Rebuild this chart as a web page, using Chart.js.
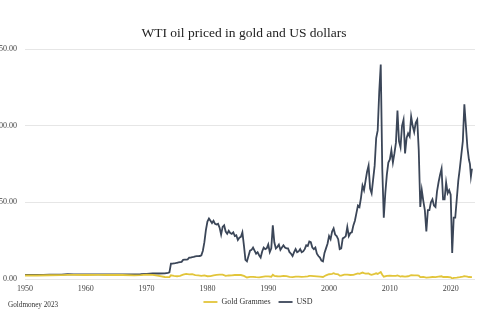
<!DOCTYPE html>
<html>
<head>
<meta charset="utf-8">
<script src="https://cdn.jsdelivr.net/npm/chart.js@4/dist/chart.umd.min.js"></script>
<style>
  html, body { margin: 0; padding: 0; background: #fff; }
  #wrap { position: relative; width: 485px; height: 321px; overflow: hidden; }
  #box { position: absolute; left: -8px; top: 0; width: 503px; height: 321px; }
  #credit { position: absolute; left: 8px; top: 301px; font: 7.2px "Liberation Serif", serif; color: #333; }
</style>
</head>
<body>
<div id="wrap">
  <div id="box"><canvas id="chart"></canvas></div>
  <div id="credit">Goldmoney 2023</div>
</div>
<script>
// WTI oil price in USD per barrel
const usdDates = [
  1950, 1951, 1952, 1953, 1954, 1955, 1956, 1957, 1958, 1959, 1960, 1962, 1964, 1966, 1968, 1969, 1970, 1971, 1972, 1973, 1973.5, 1973.75,
  1974, 1974.25, 1974.5, 1974.75,
  1975, 1975.25, 1975.5, 1975.75,
  1976, 1976.25, 1976.5, 1976.75,
  1977, 1977.25, 1977.5, 1977.75,
  1978, 1978.25, 1978.5, 1978.75,
  1979, 1979.25, 1979.5, 1979.75,
  1980, 1980.25, 1980.5, 1980.75,
  1981, 1981.25, 1981.5, 1981.75,
  1982, 1982.25, 1982.5, 1982.75,
  1983, 1983.25, 1983.5, 1983.75,
  1984, 1984.25, 1984.5, 1984.75,
  1985, 1985.25, 1985.5, 1985.75,
  1986, 1986.25, 1986.5, 1986.75,
  1987, 1987.25, 1987.5, 1987.75,
  1988, 1988.25, 1988.5, 1988.75,
  1989, 1989.25, 1989.5, 1989.75,
  1990, 1990.25, 1990.5, 1990.75,
  1991, 1991.25, 1991.5, 1991.75,
  1992, 1992.25, 1992.5, 1992.75,
  1993, 1993.25, 1993.5, 1993.75,
  1994, 1994.25, 1994.5, 1994.75,
  1995, 1995.25, 1995.5, 1995.75,
  1996, 1996.25, 1996.5, 1996.75,
  1997, 1997.25, 1997.5, 1997.75,
  1998, 1998.25, 1998.5, 1998.75,
  1999, 1999.25, 1999.5, 1999.75,
  2000, 2000.25, 2000.5, 2000.75,
  2001, 2001.25, 2001.5, 2001.75,
  2002, 2002.25, 2002.5, 2002.75,
  2003, 2003.25, 2003.5, 2003.75,
  2004, 2004.25, 2004.5, 2004.75,
  2005, 2005.25, 2005.5, 2005.75,
  2006, 2006.25, 2006.5, 2006.75,
  2007, 2007.25, 2007.5, 2007.75,
  2008, 2008.25, 2008.5, 2008.75,
  2009, 2009.25, 2009.5, 2009.75,
  2010, 2010.25, 2010.5, 2010.75,
  2011, 2011.25, 2011.5, 2011.75,
  2012, 2012.25, 2012.5, 2012.75,
  2013, 2013.25, 2013.5, 2013.75,
  2014, 2014.25, 2014.5, 2014.75,
  2015, 2015.25, 2015.5, 2015.75,
  2016, 2016.25, 2016.5, 2016.75,
  2017, 2017.25, 2017.5, 2017.75,
  2018, 2018.25, 2018.5, 2018.75,
  2019, 2019.25, 2019.5, 2019.75,
  2020, 2020.25, 2020.5, 2020.75,
  2021, 2021.25, 2021.5, 2021.75,
  2022, 2022.25, 2022.5, 2022.75,
  2023, 2023.17, 2023.33, 2023.5
];
const usdValues = [
  2.6, 2.6, 2.6, 2.7, 2.8, 2.8, 2.8, 3.1, 3.0, 3.0, 3.0, 3.0, 2.95, 2.95, 3.0, 3.1, 3.35, 3.6, 3.6, 3.7, 4.0, 4.3,
  10.1, 10.1, 10.2, 10.3,
  10.6, 10.8, 11.0, 11.2,
  12.5, 12.6, 12.7, 12.8,
  13.9, 14.0, 14.3, 14.4,
  14.8, 14.9, 14.9, 15.0,
  15.5, 18.5, 24, 32,
  37.5, 39.5, 38, 36.5,
  38, 36, 35.5, 36,
  33.5, 29, 34, 35,
  31, 29.5, 31.5, 30,
  29.5, 30.5, 28, 28.5,
  25.5, 27, 27.5, 30.5,
  22, 12.5, 11.5, 15,
  18.5, 19, 20.5, 18.5,
  16.5, 17.5, 15.5, 14,
  18, 20.5, 19.5, 20,
  22.5, 17.5, 20, 35,
  24, 20, 21, 22.5,
  19, 20.5, 22, 20.5,
  20, 20, 17.5, 16.5,
  15, 17.5, 19.5, 17.5,
  18, 19.5, 17.5, 18,
  19.5, 22, 21.5, 24.5,
  24, 20.5, 19.5, 20.5,
  16.5, 15, 14, 12,
  11.5, 17, 20, 23,
  28, 26, 31, 33,
  29, 28, 26, 19.5,
  20, 26.5, 27, 28,
  34, 28, 30, 30.5,
  35, 38, 43, 48,
  47, 53, 61, 58,
  64, 70, 74, 59,
  56, 65, 74, 92,
  97, 122, 140, 72,
  40, 56, 68, 76,
  78, 84, 76, 82,
  89, 110, 90, 86,
  100, 104, 82, 92,
  95, 93, 106, 100,
  96, 102, 104, 84,
  47, 58, 51, 45,
  31, 45, 45, 50,
  52, 48, 47, 57,
  63, 68, 72, 52,
  52, 63, 56, 58,
  55, 17, 40, 40,
  52, 64, 72, 81,
  90, 114, 100, 86,
  78, 75, 67, 72
];

// WTI oil price in grammes of gold per barrel
const goldDates = [
  1950, 1952, 1954, 1956, 1957, 1958, 1960, 1962, 1964, 1966, 1968, 1969, 1970, 1971, 1972, 1973, 1973.75,
  1974, 1974.5, 1975, 1975.5, 1976, 1976.5, 1977, 1977.5, 1978, 1978.5, 1979, 1979.5,
  1980, 1980.5, 1981, 1981.5, 1982, 1982.5, 1983, 1983.5, 1984, 1984.5, 1985, 1985.5,
  1986, 1986.5, 1987, 1987.5, 1988, 1988.5, 1989, 1989.5, 1990, 1990.5, 1990.75,
  1991, 1991.5, 1992, 1992.5, 1993, 1993.5, 1994, 1994.5, 1995, 1995.5,
  1996, 1996.5, 1996.75, 1997, 1997.5, 1998, 1998.5, 1999, 1999.5,
  2000, 2000.5, 2000.75, 2001, 2001.5, 2001.75, 2002, 2002.5, 2003, 2003.5,
  2004, 2004.5, 2004.75, 2005, 2005.5, 2005.75, 2006, 2006.5, 2006.75,
  2007, 2007.5, 2007.75, 2008, 2008.5, 2008.75, 2009, 2009.5,
  2010, 2010.5, 2011, 2011.25, 2011.75, 2012, 2012.5, 2013, 2013.5,
  2014, 2014.5, 2014.75, 2015, 2015.5, 2016, 2016.5, 2017, 2017.5,
  2018, 2018.5, 2018.75, 2019, 2019.5, 2020, 2020.25, 2020.5,
  2021, 2021.5, 2021.75, 2022, 2022.25, 2022.75, 2023, 2023.5
];
const goldValues = [
  2.3, 2.3, 2.45, 2.5, 2.7, 2.65, 2.6, 2.65, 2.6, 2.6, 2.4, 2.5, 2.8, 2.7, 2.0, 1.3, 1.2,
  2.4, 2.0, 1.8, 2.1, 2.8, 3.3, 3.0, 3.1, 2.6, 2.3, 2.0, 2.3,
  1.8, 1.9, 2.4, 2.7, 2.9, 2.9, 2.1, 2.3, 2.4, 2.6, 2.6, 2.6,
  2.0, 1.0, 1.4, 1.4, 1.2, 1.1, 1.4, 1.7, 1.7, 1.5, 2.8,
  2.1, 1.8, 1.7, 2.0, 1.9, 1.4, 1.2, 1.6, 1.5, 1.4,
  1.5, 1.7, 2.0, 2.1, 1.9, 1.7, 1.5, 1.3, 2.4,
  3.1, 3.4, 3.8, 3.4, 3.0, 2.2, 2.2, 2.8, 2.8, 2.6,
  2.7, 3.3, 3.6, 3.4, 4.2, 3.8, 3.5, 3.6, 3.0,
  2.7, 3.3, 3.7, 3.3, 4.6, 2.8, 1.5, 2.1,
  2.2, 2.0, 2.0, 2.3, 1.6, 1.8, 1.6, 1.8, 2.5,
  2.4, 2.4, 2.2, 1.2, 1.4, 0.9, 1.1, 1.3, 1.2,
  1.5, 1.8, 1.3, 1.3, 1.3, 1.1, 0.3, 0.7,
  0.9, 1.2, 1.4, 1.5, 1.9, 1.6, 1.3, 1.2
];

const yTicks = [0, 50, 100, 150];
const xTicks = [1950, 1960, 1970, 1980, 1990, 2000, 2010, 2020];

const serif = '"Liberation Serif", "DejaVu Serif", serif';
const toPoints = (xs, ys) => xs.map((x, i) => ({ x, y: ys[i] }));

// the original sits title and legend a bit right of the plot centre
const nudge = {
    id: "nudge",
    afterLayout(chart) {
        chart.titleBlock.left += 9;
        chart.titleBlock.right += 9;
        chart.legend.left += 23;
        chart.legend.right += 23;
        chart.legend.top -= 1;
        chart.legend.bottom -= 1;
    },
};

new Chart(document.getElementById("chart"), {
    type: "line",
    data: {
        datasets: [
            {
                label: "Gold Grammes",
                data: toPoints(goldDates, goldValues),
                borderColor: "#e2c53a",
                backgroundColor: "#e2c53a",
                borderWidth: 1.8,
                pointRadius: 0,
                pointStyle: "line",
                tension: 0,
            },
            {
                label: "USD",
                data: toPoints(usdDates, usdValues),
                borderColor: "#3b4658",
                backgroundColor: "#3b4658",
                borderWidth: 1.8,
                pointRadius: 0,
                pointStyle: "line",
                tension: 0,
            },
        ],
    },
    plugins: [nudge],
    options: {
        responsive: true,
        maintainAspectRatio: false,
        animation: false,
        layout: { padding: { left: 3, right: 20, top: 0, bottom: 4 } },
        plugins: {
            title: {
                display: true,
                text: "WTI oil priced in gold and US dollars",
                color: "#222",
                font: { family: serif, size: 13.5, weight: "normal" },
                padding: { top: 25, bottom: 8 },
            },
            legend: {
                position: "bottom",
                labels: {
                    usePointStyle: true,
                    pointStyleWidth: 14,
                    boxHeight: 2,
                    color: "#333",
                    font: { family: serif, size: 8 },
                    padding: 8,
                },
            },
            tooltip: { enabled: false },
        },
        scales: {
            x: {
                type: "linear",
                min: 1950,
                max: 2024,
                afterBuildTicks: (s) => { s.ticks = xTicks.map((v) => ({ value: v })); },
                afterFit: (s) => { s.height = 12; },
                ticks: { color: "#444", font: { family: serif, size: 8 }, padding: 5, callback: (v) => String(v) },
                grid: { display: false, drawTicks: false },
                border: { display: false },
            },
            y: {
                min: 0,
                max: 150,
                afterBuildTicks: (s) => { s.ticks = yTicks.map((v) => ({ value: v })); },
                afterFit: (s) => { s.width = 30; },
                ticks: { color: "#444", font: { family: serif, size: 8 }, padding: 8, callback: (v) => v.toFixed(2) },
                grid: { color: "#e6e6e6", drawTicks: false },
                border: { display: false },
            },
        },
    },
});
</script>
</body>
</html>
